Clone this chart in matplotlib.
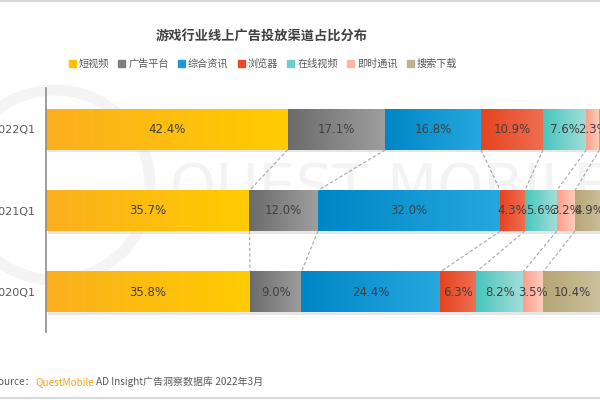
import numpy as np
import matplotlib.pyplot as plt
from matplotlib.colors import to_rgb

plt.rcParams['font.family'] = ['Noto Sans CJK SC', 'DejaVu Sans']

# data
years = ['2022Q1', '2021Q1', '2020Q1']
channels = ['短视频', '广告平台', '综合资讯', '浏览器', '在线视频', '即时通讯', '搜索下载']
share_2022 = [42.4, 17.1, 16.8, 10.9, 7.6, 2.3, 2.9]
share_2021 = [35.7, 12.0, 32.0, 4.3, 5.6, 3.2, 4.9]
share_2020 = [35.8, 9.0, 24.4, 6.3, 8.2, 3.5, 10.4]
shares = [share_2022, share_2021, share_2020]

# gradient start / end colour for each channel, plus legend colour
grad_colors = [('#FBAF1F', '#FFCC00'),
               ('#6B6B6B', '#9E9E9E'),
               ('#0086C6', '#26A8DE'),
               ('#E5441F', '#EF6E52'),
               ('#48C6BE', '#A2DDD9'),
               ('#FB9F8B', '#FDCDBD'),
               ('#B5A676', '#CBC19C')]
legend_colors = ['#FFC000', '#7F7F7F', '#1E98D4', '#E64B2A', '#6CCFCA', '#FBB6A4', '#BEB38B']

fig = plt.figure(figsize=(6, 4), dpi=100)
ax = fig.add_axes([46/600, 1 - 332/400, 570/600, 244/400])

# faint watermark, drawn inside the axes below the bars
ax.text(390/600, 1 - 190/400, 'QUEST MOBILE', transform=fig.transFigure, fontsize=42,
        color='#f3f3f3', ha='center', va='center', fontfamily='DejaVu Sans',
        zorder=0, clip_on=False)
ring = plt.Circle((0.55, 2.15), 0.95, transform=fig.dpi_scale_trans, fill=False,
                  lw=8, color='#f4f4f4', zorder=0, clip_on=False)
ax.add_artist(ring)

ypos = [2, 1, 0]
h = 0.5

def grad(c1, c2, n=64):
    a = np.array(to_rgb(c1)); b = np.array(to_rgb(c2))
    t = np.linspace(0, 1, n)[:, None]
    return (a + (b - a) * t)[None, :, :]

for yv, vals in zip(ypos, shares):
    # soft shadow
    ax.add_patch(plt.Rectangle((0.3, yv - h/2 - 0.03), 100, h, color='#cfcfcf',
                               alpha=0.5, lw=0, zorder=1))
    left = 0
    for v, (c1, c2) in zip(vals, grad_colors):
        ax.imshow(grad(c1, c2), extent=[left, left + v, yv - h/2, yv + h/2],
                  aspect='auto', interpolation='bilinear', zorder=2)
        if left + v/2 < 98:
            ax.text(left + v/2, yv, f'{v:.1f}%', ha='center', va='center',
                    fontsize=8.5, color='#404040', zorder=4, fontfamily='DejaVu Sans')
        left += v

# dashed connectors between bars
for i in range(len(shares) - 1):
    up = np.cumsum(shares[i]); lo = np.cumsum(shares[i + 1])
    for a, b in zip(up[:-1], lo[:-1]):
        ax.plot([a, b], [ypos[i] - h/2, ypos[i + 1] + h/2], ls=(0, (3, 2)),
                color='#a6a6a6', lw=0.8, zorder=3)

ax.set_xlim(0, 100)
ax.set_ylim(-0.49, 2.51)
ax.set_yticks(ypos)
ax.set_yticklabels(years, fontsize=8, color='#595959', fontfamily='DejaVu Sans')
ax.tick_params(axis='y', length=0, pad=8)
ax.set_xticks([])
for s in ['top', 'right', 'bottom']:
    ax.spines[s].set_visible(False)
ax.spines['left'].set_color('#8c8c8c')
ax.spines['left'].set_linewidth(1.2)
ax.spines['left'].set_zorder(5)

# title (picture is cropped, so centre sits left of the middle)
fig.text(262/600, 1 - 37/400, '游戏行业线上广告投放渠道占比分布', ha='center', va='center',
         fontsize=9.5, fontweight='bold', color='#404040')

# legend
handles = [plt.Rectangle((0, 0), 1, 1, color=c) for c in legend_colors]
fig.legend(handles, channels, loc='center', bbox_to_anchor=(263/600, 1 - 64/400), ncol=7,
           frameon=False, fontsize=7.3, handlelength=0.7, handleheight=0.7,
           handletextpad=0.3, columnspacing=0.9, labelcolor='#595959')

# source line, pieces chained one after the other
renderer = fig.canvas.get_renderer()
x = -0.012
for txt, col, gap in [('Source：', '#595959', 0.0),
                      ('QuestMobile', '#F7A11A', 0.003),
                      ('AD Insight广告洞察数据库 2022年3月', '#595959', 0.0)]:
    t = fig.text(x, 1 - 382/400, txt, fontsize=7.2, color=col, va='center')
    bb = t.get_window_extent(renderer)
    x += bb.width / fig.bbox.width + gap

# frame lines top and bottom
fig.add_artist(plt.Line2D([0, 1], [0.998, 0.998], color='#d9d9d9', lw=1.5))
fig.add_artist(plt.Line2D([0, 1], [0.004, 0.004], color='#d9d9d9', lw=1.5))

fig.savefig('out.png', dpi=100)
